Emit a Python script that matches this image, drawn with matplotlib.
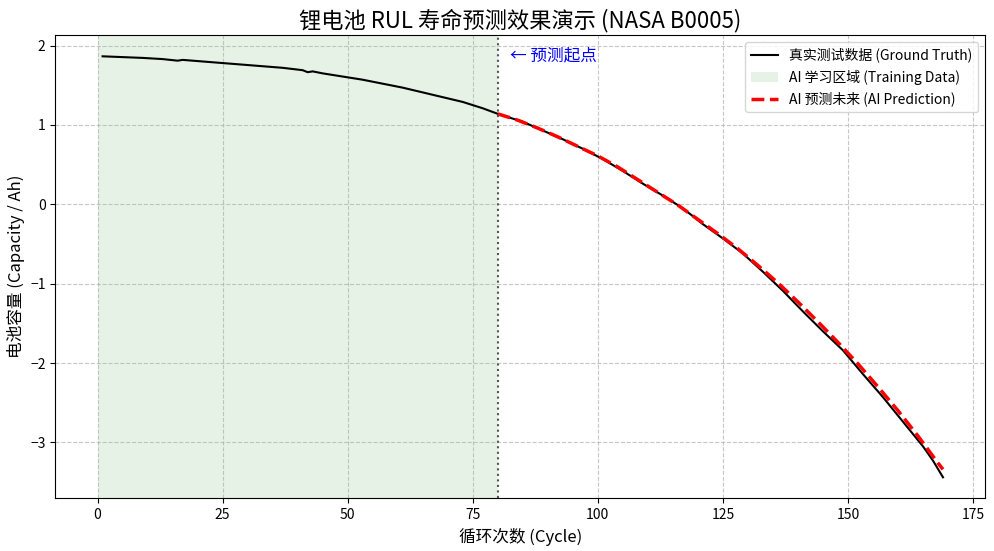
import matplotlib
matplotlib.use("Agg")
import matplotlib.pyplot as plt

plt.rcParams['font.family'] = ['Noto Sans CJK SC', 'DejaVu Sans']
plt.rcParams['axes.unicode_minus'] = True

# Ground truth capacity (cycles / values)
truth_cycles = [1, 5, 9, 13, 16, 17, 21, 25, 29, 33, 37, 41, 42, 43, 45, 49, 53, 57, 61, 65, 69, 73, 77, 80,
                81, 85, 89, 93, 97, 101, 105, 109, 113, 117, 121, 125, 129, 133, 137, 141, 145,
                149, 153, 157, 161, 165, 167, 169]
truth_values = [1.865, 1.855, 1.845, 1.83, 1.81, 1.82, 1.80, 1.78, 1.76, 1.74, 1.72, 1.69, 1.665, 1.675, 1.65, 1.61,
                1.57, 1.52, 1.47, 1.41, 1.35, 1.29, 1.21, 1.14,
                1.12, 1.04, 0.93, 0.82, 0.70, 0.57, 0.42, 0.26, 0.11, -0.05, -0.25, -0.43, -0.62,
                -0.85, -1.09, -1.35, -1.60, -1.84, -2.14, -2.43, -2.74, -3.05, -3.23, -3.44]

# AI prediction
pred_cycles = [80, 84, 88, 92, 96, 100, 104, 108, 112, 116, 120, 124, 128, 132, 136, 140, 144,
               148, 152, 156, 160, 164, 168, 169]
pred_values = [1.14, 1.06, 0.96, 0.85, 0.73, 0.61, 0.47, 0.31, 0.15, -0.01, -0.19, -0.37, -0.56,
               -0.77, -0.99, -1.23, -1.48, -1.74, -2.01, -2.30, -2.60, -2.92, -3.26, -3.34]

train_start = 0
train_end = 80

fig = plt.figure(figsize=(9.95, 5.51), dpi=100)
ax = fig.add_axes([0.0556, 0.0956, 0.9346, 0.8404])

ax.plot(truth_cycles, truth_values, color='black', lw=1.5, label='真实测试数据 (Ground Truth)')
ax.axvspan(train_start, train_end, color='green', alpha=0.1, lw=0, label='AI 学习区域 (Training Data)')
ax.plot(pred_cycles, pred_values, color='red', ls='--', lw=2.5, label='AI 预测未来 (AI Prediction)')
ax.axvline(train_end, color='#555555', ls=':', lw=1.5)

ax.text(82.5, 1.87, '← 预测起点', color='blue', fontsize=12, va='center', ha='left')

ax.set_title('锂电池 RUL 寿命预测效果演示 (NASA B0005)', fontsize=16)
ax.set_xlabel('循环次数 (Cycle)', fontsize=12)
ax.set_ylabel('电池容量 (Capacity / Ah)', fontsize=12)
ax.grid(True, ls='--', alpha=0.7)
ax.legend(loc='upper right', fontsize=10)

fig.savefig('out.png', dpi=100)
